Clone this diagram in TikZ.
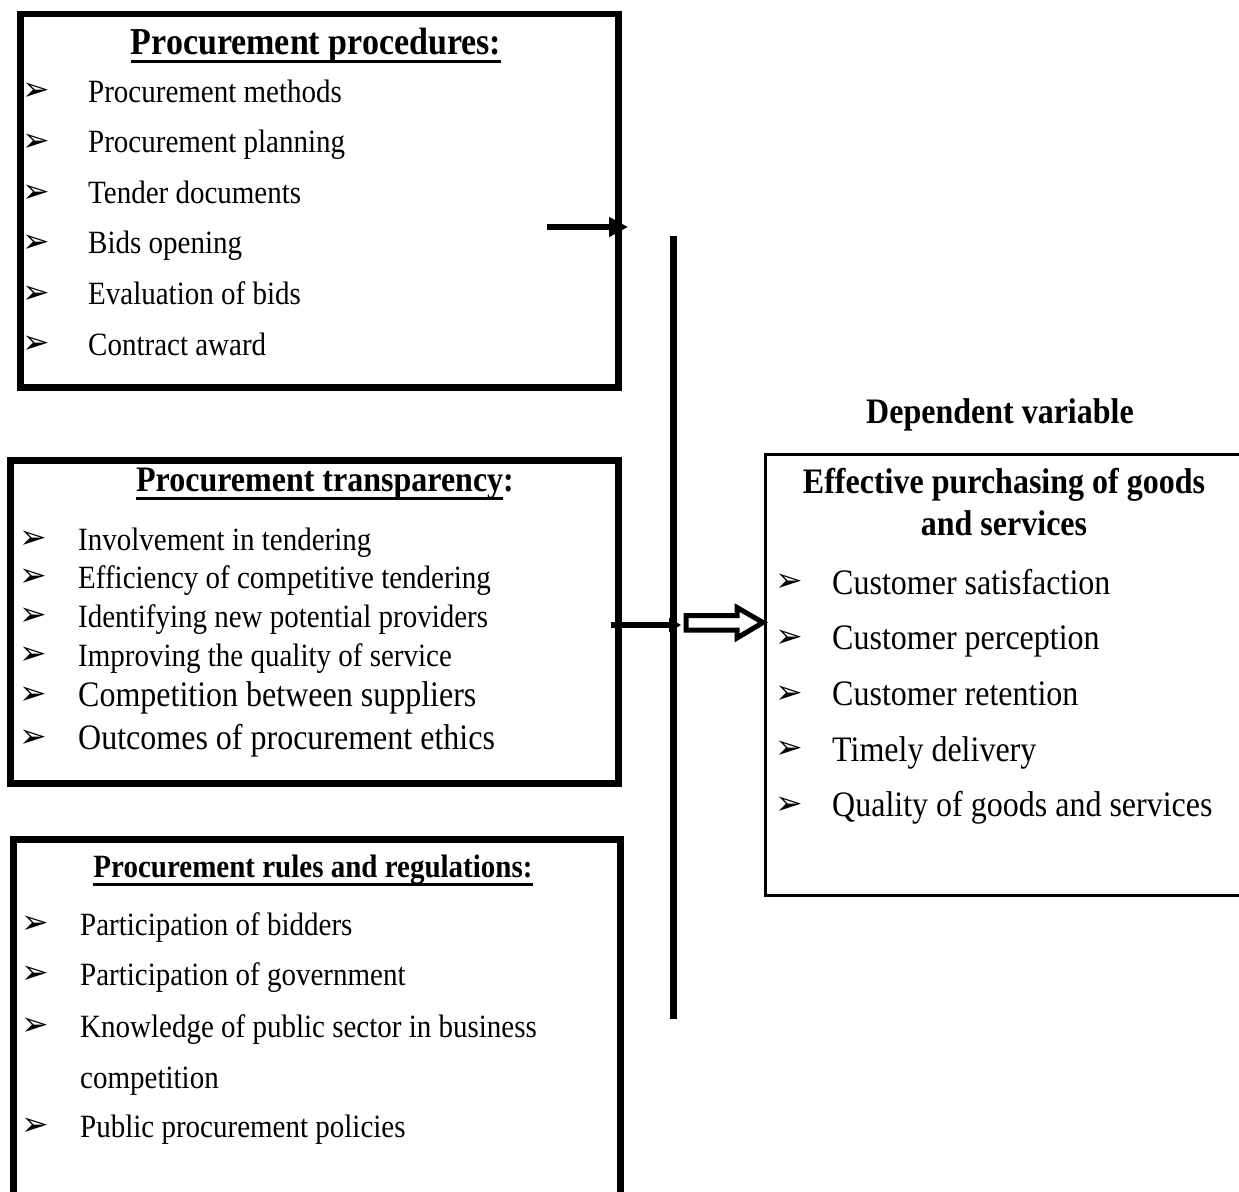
\documentclass[tikz,border=0pt]{standalone}
\usepackage{fontspec}
\setmainfont{Liberation Serif}
\newfontfamily\dingfont{DejaVu Sans}
\usetikzlibrary{arrows.meta}

% text in the reference is a little taller than wide
\newcommand{\tallbox}[1]{\scalebox{1}[1.12]{#1}}
\newcommand{\arrowbul}{{\dingfont ➢}}
\newcommand{\titleline}[1]{\setbox0\hbox{#1}\leavevmode\rlap{\rule[-9pt]{\wd0}{2.8pt}}\box0}

\tikzset{
  frame/.style={draw, line width=6.5pt, anchor=north west, inner sep=0pt},
  thinframe/.style={draw, line width=2.5pt, anchor=north west, inner sep=0pt},
  item/.style={anchor=base west, inner sep=0pt, font=\fontsize{29}{34}\selectfont},
  bigitem/.style={item, font=\fontsize{32}{38}\selectfont},
  heading/.style={anchor=base, inner sep=0pt, font=\fontsize{29}{34}\selectfont\bfseries},
  bul/.style={inner sep=0pt, font=\fontsize{33}{33}\selectfont},
  conn/.style={line width=6.5pt, -{Triangle[length=19pt, width=19pt]}}
}

\begin{document}
\begin{tikzpicture}[x=1pt, y=-1pt]
    \useasboundingbox (0,0) rectangle (1239,1191);

    % Procurement procedures
    \node[frame, minimum width=598pt, minimum height=373.5pt] (proc) at (17,10.5) {};
    \node[heading, font=\fontsize{34}{40}\selectfont\bfseries] (procT) at (316,54) {\titleline{\tallbox{Procurement procedures:}}};
    \foreach \t [count=\i] in {Procurement methods, Procurement planning, Tender documents,
        Bids opening, Evaluation of bids, Contract award} {
        \node[bul] (pb\i) at (36, {92+50.6*(\i-1)}) {\arrowbul};
        \node[item] (pi\i) at (88, {102+50.6*(\i-1)}) {\tallbox{\t}};
    }

    % Procurement transparency
    \node[frame, minimum width=608pt, minimum height=323pt] (trans) at (7,457) {};
    \node[heading, font=\fontsize{32}{38}\selectfont\bfseries] (transT) at (325,491) {\titleline{\tallbox{Procurement transparency}}\tallbox{:}};
    \foreach \y/\s/\t [count=\i] in {540/item/Involvement in tendering,
        578/item/Efficiency of competitive tendering,
        617/item/Identifying new potential providers,
        656/item/Improving the quality of service,
        696/bigitem/Competition between suppliers,
        739/bigitem/Outcomes of procurement ethics} {
        \node[bul] (tb\i) at (33,\y) {\arrowbul};
        \node[\s] (ti\i) at (78, {\y+10}) {\tallbox{\t}};
    }

    % Procurement rules and regulations
    \node[frame, minimum width=607pt, minimum height=370pt] (rules) at (10,836) {};
    \node[heading] (rulesT) at (313,877) {\titleline{\tallbox{Procurement rules and regulations:}}};
    \foreach \y/\t [count=\i] in {925/Participation of bidders,
        975/Participation of government,
        1027/Knowledge of public sector in business,
        1127/Public procurement policies} {
        \node[bul] (rb\i) at (35,\y) {\arrowbul};
        \node[item] (ri\i) at (80, {\y+10}) {\tallbox{\t}};
    }
    \node[item] (ri5) at (80,1088) {\tallbox{competition}};

    % Dependent variable
    \node[heading, font=\fontsize{32}{38}\selectfont\bfseries] (depT) at (1000,423) {\tallbox{Dependent variable}};
    \node[thinframe, minimum width=490pt, minimum height=441pt] (eff) at (764,453) {};
    \node[heading, font=\fontsize{32}{38}\selectfont\bfseries, anchor=center] (effT1) at (1004,485) {\tallbox{Effective purchasing of goods}};
    \node[heading, font=\fontsize{32}{38}\selectfont\bfseries, anchor=center] (effT2) at (1004,523) {\tallbox{and services}};
    \foreach \t [count=\i] in {Customer satisfaction, Customer perception, Customer retention,
        Timely delivery, Quality of goods and services} {
        \node[bul] (eb\i) at (789, {583+55.7*(\i-1)}) {\arrowbul};
        \node[bigitem] (ei\i) at (832, {594+55.7*(\i-1)}) {\tallbox{\t}};
    }

    % Connectors
    \coordinate (vtop) at (673,236);
    \coordinate (vbot) at (673,1019);
    \draw[line width=7pt] (vtop) -- (vbot);

    \coordinate (a1) at (547,227);
    \coordinate (a1tip) at (628,227);
    \draw[conn] (a1) -- (a1tip);

    \coordinate (a2) at (611,625);
    \coordinate (a2tip) at (681,625);
    \draw[line width=6.5pt, -{Triangle[length=12pt, width=14pt]}] (a2) -- (a2tip);

    \coordinate (h0) at (686,622.5);
    \draw[line width=5pt, line join=miter] (h0) ++(0,-7) -- ++(51,0) -- ++(0,-8)
        -- (763,622.5) -- (737,638) -- ++(0,-8) -- (686,630) -- cycle;
\end{tikzpicture}
\end{document}
